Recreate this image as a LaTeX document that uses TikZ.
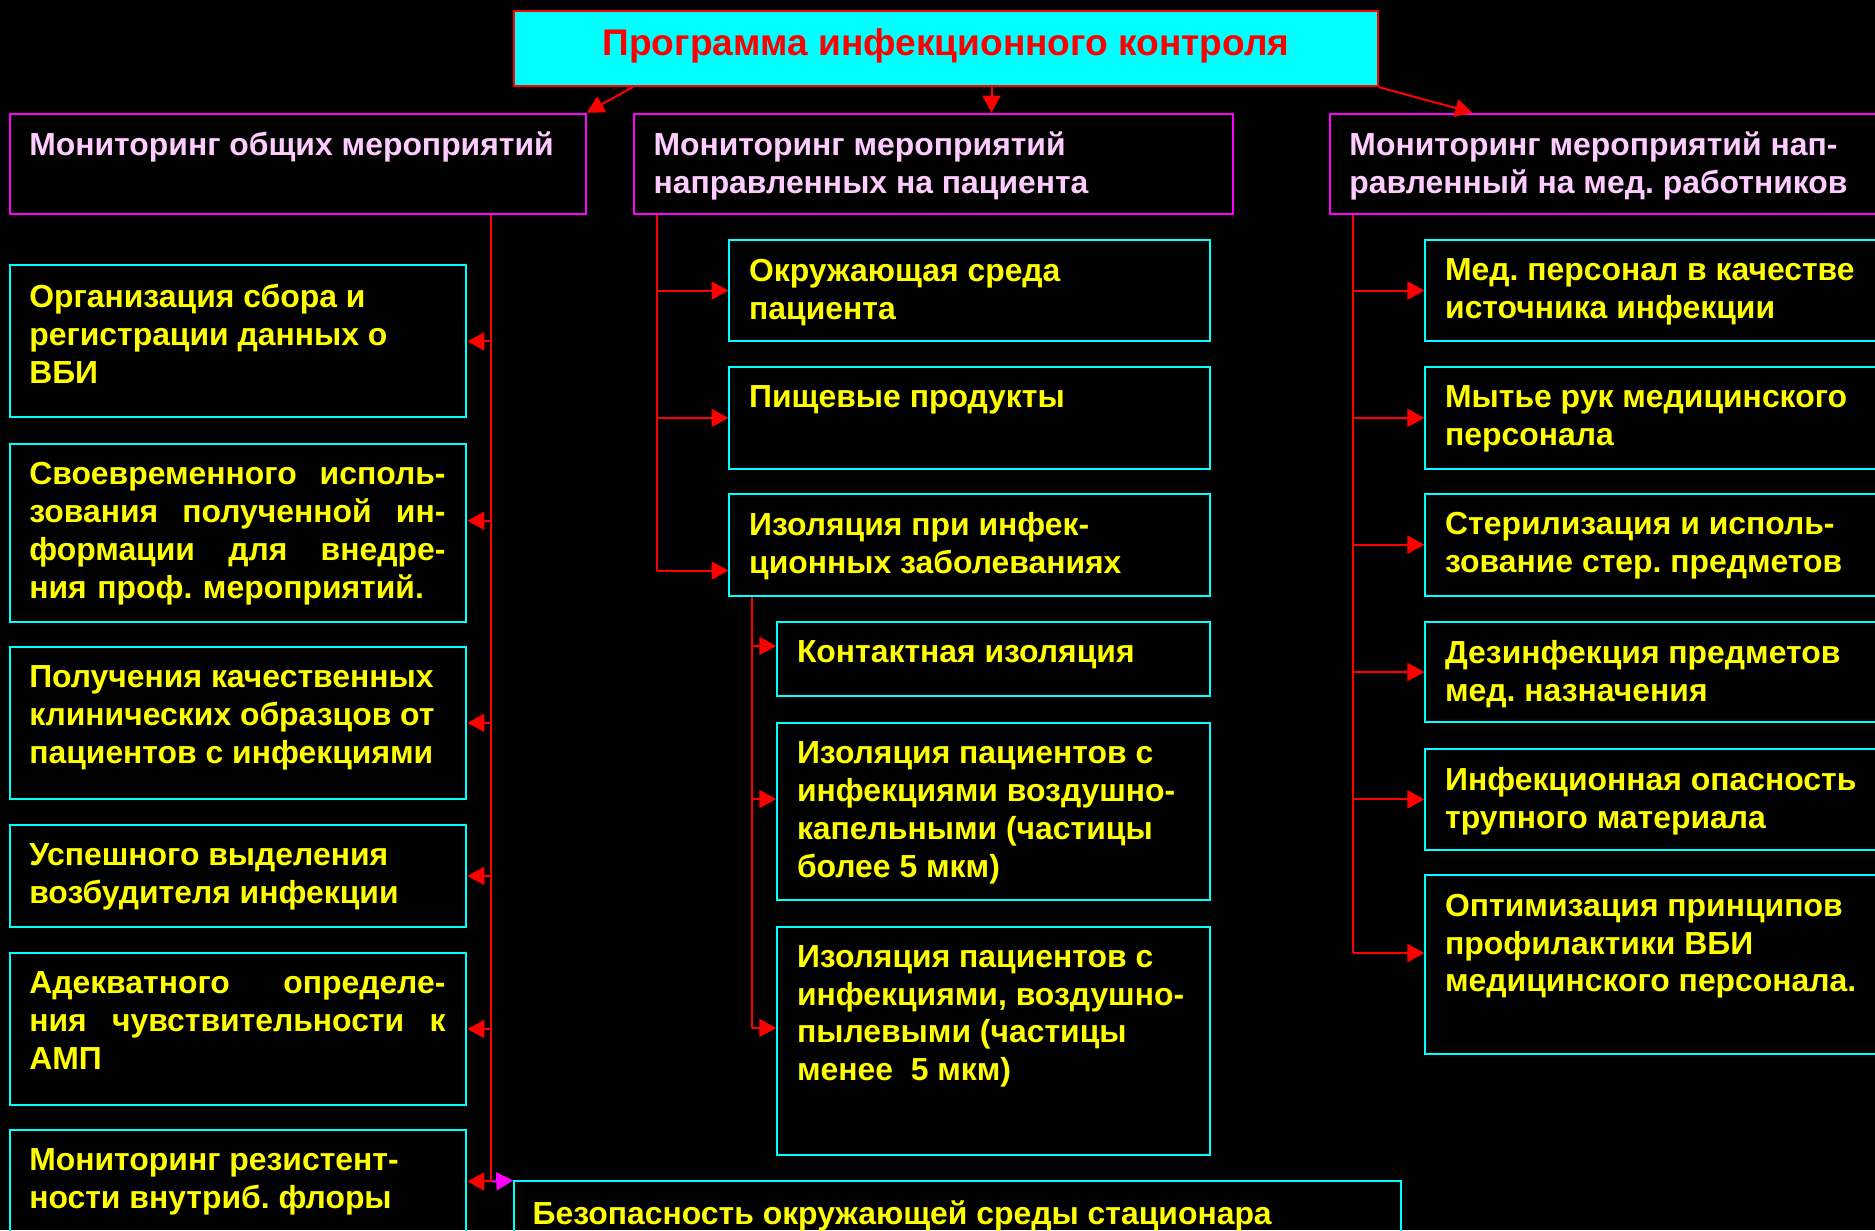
\documentclass[tikz,border=0pt]{standalone}
\usepackage{fontspec}
\setmainfont{Liberation Sans}
\frenchspacing
\usetikzlibrary{arrows.meta, positioning, fit}
\definecolor{boxcyan}{RGB}{0,255,255}
\definecolor{headpink}{RGB}{255,204,255}
\definecolor{headmag}{RGB}{255,0,255}
\definecolor{itemyellow}{RGB}{255,255,0}
\definecolor{linered}{RGB}{255,0,0}
\tikzset{
  frame/.style={inner sep=0pt, line width=1pt},
  topbox/.style={frame, draw=linered, fill=boxcyan},
  headbox/.style={frame, draw=headmag},
  itembox/.style={frame, draw=boxcyan},
  boxtext/.style={anchor=north west, inner sep=0pt, align=left,
    font=\bfseries\fontsize{16pt}{19pt}\selectfont},
  headtext/.style={boxtext, text=headpink},
  itemtext/.style={boxtext, text=itemyellow},
  trunk/.style={linered, line width=1pt},
  arr/.style={linered, line width=1pt, -{Triangle[length=8.5pt,width=9pt]}},
}

\begin{document}
\begin{tikzpicture}[x=0.6pt, y=-0.6pt]
\useasboundingbox (0,0) rectangle (1568,1029);
\fill[black] (0,0) rectangle (1568,1029);
\clip (0,0) rectangle (1568,1029);
%% top box
  \node[topbox, fit={(430,9) (1152,72)}] (top) {};
  \node[text=linered, inner sep=0pt, font=\bfseries\fontsize{18.6pt}{22pt}\selectfont]
    (topt) at ([yshift=1.5pt]top.center) {Программа инфекционного контроля};
%% monitoring boxes
  \node[headbox, fit={(8,95) (490,179)}] (A) {};
  \node[headtext] (At) at ([shift={(17,16)}]A.north west) {Мониторинг общих мероприятий};
  \node[headbox, fit={(530,95) (1031,179)}] (B) {};
  \node[headtext] (Bt) at ([shift={(17,16)}]B.north west) {Мониторинг мероприятий\\направленных на пациента};
  \node[headbox, fit={(1112,95) (1590,179)}] (C) {};
  \node[headtext] (Ct) at ([shift={(17,16)}]C.north west) {Мониторинг мероприятий нап-\\равленный на мед. работников};
  \draw[arr] ([xshift=60pt]top.south west) -- (A.north east);
  \draw[arr] ([xshift=240pt]top.south west) -- ([xshift=240pt]top.south west |- B.north);
  \draw[arr] (top.south east) -- ([xshift=72pt]C.north west);
%% left column
  \node[itembox, fit={(8,222) (390,349)}] (l1) {};
  \node[itemtext] (l1t) at ([shift={(17,16)}]l1.north west) {Организация сбора и\\регистрации данных о\\ВБИ};
  \node[itembox, fit={(8,371) (390,520)}] (l2) {};
  \node[itemtext, text width=208.8pt] (l2t) at ([shift={(17,16)}]l2.north west)
    {Своевременного\hfill исполь-\\зования\hfill полученной\hfill ин-\\формации\hfill для\hfill внедре-\\ния проф. мероприятий.};
  \node[itembox, fit={(8,541) (390,668)}] (l3) {};
  \node[itemtext] (l3t) at ([shift={(17,16)}]l3.north west) {Получения качественных\\клинических образцов от\\пациентов с инфекциями};
  \node[itembox, fit={(8,690) (390,775)}] (l4) {};
  \node[itemtext] (l4t) at ([shift={(17,16)}]l4.north west) {Успешного выделения\\возбудителя инфекции};
  \node[itembox, fit={(8,797) (390,924)}] (l5) {};
  \node[itemtext, text width=208.8pt] (l5t) at ([shift={(17,16)}]l5.north west)
    {Адекватного\hfill определе-\\ния\hfill чувствительности\hfill к\\АМП};
  \node[itembox, fit={(8,945) (390,1031)}] (l6) {};
  \node[itemtext] (l6t) at ([shift={(17,16)}]l6.north west) {Мониторинг резистент-\\ности внутриб. флоры};
  \node[itembox, fit={(430,988) (1172,1075)}] (bt) {};
  \node[itemtext] (btt) at ([shift={(16,17)}]bt.north west) {Безопасность окружающей среды стационара};
  \coordinate (lt) at ([xshift=-48pt]A.south east);
  \draw[trunk] (lt) -- (lt |- l6.east);
  \foreach \n in {l1,l3,l4,l5,l6}
    \draw[arr] (lt |- \n.east) -- (\n.east);
  \draw[arr] ([yshift=6pt]l2.east -| lt) -- ([yshift=6pt]l2.east);
  \draw[arr, headmag] (lt |- l6.east) -- (bt.north west);
%% middle column
  \node[itembox, fit={(610,201) (1012,285)}] (m1) {};
  \node[itemtext] (m1t) at ([shift={(17,16)}]m1.north west) {Окружающая среда\\пациента};
  \node[itembox, fit={(610,307) (1012,392)}] (m2) {};
  \node[itemtext] (m2t) at ([shift={(17,16)}]m2.north west) {Пищевые продукты};
  \node[itembox, fit={(610,413) (1012,498)}] (m3) {};
  \node[itemtext] (m3t) at ([shift={(17,16)}]m3.north west) {Изоляция при инфек-\\ционных заболеваниях};
  \coordinate (mt) at ([xshift=12pt]B.south west);
  \draw[trunk] (mt) -- ([yshift=-13pt]m3.west -| mt);
  \foreach \n in {m1,m2}
    \draw[arr] (mt |- \n.west) -- (\n.west);
  \draw[arr] ([yshift=-13pt]m3.west -| mt) -- ([yshift=-13pt]m3.west);
%% isolation sub-boxes
  \node[itembox, fit={(650,520) (1012,582)}] (s1) {};
  \node[itemtext] (s1t) at ([shift={(17,16)}]s1.north west) {Контактная изоляция};
  \node[itembox, fit={(650,605) (1012,753)}] (s2) {};
  \node[itemtext] (s2t) at ([shift={(17,16)}]s2.north west) {Изоляция пациентов с\\инфекциями воздушно-\\капельными (частицы\\более 5 мкм)};
  \node[itembox, fit={(650,775) (1012,966)}] (s3) {};
  \node[itemtext] (s3t) at ([shift={(17,16)}]s3.north west) {Изоляция пациентов с\\инфекциями, воздушно-\\пылевыми (частицы\\менее\ \ 5 мкм)};
  \coordinate (st) at ([xshift=12pt]m3.south west);
  \draw[trunk] (st) -- ([yshift=6.3pt]s3.west -| st);
  \foreach \n in {s1,s2,s3}
    \draw[arr] ([yshift=6.5pt]\n.west -| st) -- ([yshift=6.5pt]\n.west);
%% right column
  \node[itembox, fit={(1192,201) (1590,285)}] (r1) {};
  \node[itemtext] (r1t) at ([shift={(17,16)}]r1.north west) {Мед. персонал в качестве\\источника инфекции};
  \node[itembox, fit={(1192,307) (1590,392)}] (r2) {};
  \node[itemtext] (r2t) at ([shift={(17,16)}]r2.north west) {Мытье рук медицинского\\персонала};
  \node[itembox, fit={(1192,413) (1590,498)}] (r3) {};
  \node[itemtext] (r3t) at ([shift={(17,16)}]r3.north west) {Стерилизация и исполь-\\зование стер. предметов};
  \node[itembox, fit={(1192,520) (1590,604)}] (r4) {};
  \node[itemtext] (r4t) at ([shift={(17,16)}]r4.north west) {Дезинфекция предметов\\мед. назначения};
  \node[itembox, fit={(1192,626) (1590,711)}] (r5) {};
  \node[itemtext] (r5t) at ([shift={(17,16)}]r5.north west) {Инфекционная опасность\\трупного материала};
  \node[itembox, fit={(1192,732) (1590,881)}] (r6) {};
  \node[itemtext] (r6t) at ([shift={(17,16)}]r6.north west) {Оптимизация принципов\\профилактики ВБИ\\медицинского персонала.};
  \coordinate (rt) at ([xshift=12pt]C.south west);
  \draw[trunk] (rt) -- ([yshift=5.7pt]r6.west -| rt);
  \foreach \n in {r1,r2,r3,r4,r5}
    \draw[arr] (rt |- \n.west) -- (\n.west);
  \draw[arr] ([yshift=5.7pt]r6.west -| rt) -- ([yshift=5.7pt]r6.west);
\end{tikzpicture}
\end{document}
